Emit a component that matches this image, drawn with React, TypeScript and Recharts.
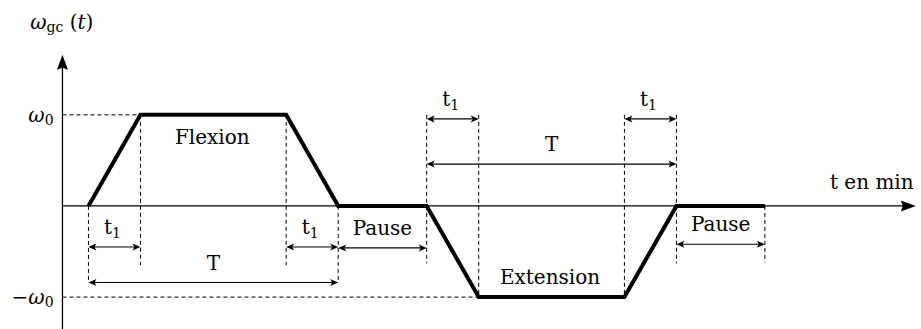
import { LineChart, Line, XAxis, YAxis, ReferenceLine, ReferenceDot } from 'recharts';

// angular speed profile of one flexion / extension cycle
const phaseTimes = [0.5, 1.5, 4.3, 5.3, 7.0, 8.0, 10.8, 11.8, 13.5];
const phaseValues = [0, 1, 1, 0, 0, -1, -1, 0, 0];

// dimension arrows (t1, T, Pause)
const dimStarts = [0.5, 4.3, 0.5, 5.3, 7.0, 10.8, 7.0, 11.8];
const dimEnds = [1.5, 5.3, 5.3, 7.0, 8.0, 11.8, 11.8, 13.5];
const dimLevels = [-0.45, -0.45, -0.84, -0.46, 0.955, 0.955, 0.46, -0.42];
const dimLabels = ['t1', 't1', 'T', 'Pause', 't1', 't1', 'T', 'Pause'];

// dashed guide lines
const guideTimes = [0.5, 1.5, 4.3, 5.3, 7.0, 8.0, 10.8, 11.8, 13.5];
const guideTops = [0, 1, 1, 0, 1, 1, 1, 1, 0];
const guideBottoms = [-0.84, -0.65, -0.65, -0.84, -0.63, -1, -1, -0.63, -0.62];

const phaseNames = ['Flexion', 'Extension'];
const phaseNameTimes = [2.88, 9.37];
const phaseNameLevels = [0.76, -0.78];

const X_DOMAIN: [number, number] = [-1.2, 16.5];
const Y_DOMAIN: [number, number] = [-1.35, 2.26];
const X_END = 16.4;
const Y_TOP = 1.66;

const FONT = "'DejaVu Serif', serif";
const INK = '#000';
const textStyle = { fontFamily: FONT, fontSize: 20 };
const subStyle = { fontSize: 14 };

function head(x: number, y: number, ux: number, uy: number, len: number, half: number, notch: number) {
  const bx = x - ux * len;
  const by = y - uy * len;
  const nx = x - ux * (len - notch);
  const ny = y - uy * (len - notch);
  return `${x},${y} ${bx - uy * half},${by + ux * half} ${nx},${ny} ${bx + uy * half},${by - ux * half}`;
}

function axisShape(props: any) {
  const { x1, y1, x2, y2 } = props;
  const d = Math.hypot(x2 - x1, y2 - y1) || 1;
  const ux = (x2 - x1) / d;
  const uy = (y2 - y1) / d;
  return (
    <g>
      <line x1={x1} y1={y1} x2={x2 - ux * 6} y2={y2 - uy * 6} stroke={INK} strokeWidth={1.3} />
      <polygon points={head(x2, y2, ux, uy, 15, 5.5, 2)} fill={INK} />
    </g>
  );
}

function renderLabel(label: string, x: number, y: number) {
  if (label === 't1') {
    return (
      <text x={x} y={y} textAnchor="middle" style={textStyle} fill={INK}>
        t<tspan dy={4} style={subStyle}>1</tspan>
      </text>
    );
  }
  return (
    <text x={x} y={y} textAnchor="middle" style={textStyle} fill={INK}>
      {label}
    </text>
  );
}

function dimShape(label: string) {
  return (props: any) => {
    const { x1, y1, x2, y2 } = props;
    const mid = (x1 + x2) / 2;
    return (
      <g>
        <line x1={x1 + 3} y1={y1} x2={x2 - 3} y2={y2} stroke={INK} strokeWidth={1.2} />
        <polygon points={head(x1, y1, -1, 0, 8, 3.5, 2)} fill={INK} />
        <polygon points={head(x2, y2, 1, 0, 8, 3.5, 2)} fill={INK} />
        {renderLabel(label, mid + (label === 't1' ? -2 : 0), y1 - 13)}
      </g>
    );
  };
}

function textShape(content: React.ReactNode, anchor: 'start' | 'middle' | 'end') {
  return (props: any) => (
    <text x={props.cx} y={props.cy} textAnchor={anchor} dominantBaseline="central" style={textStyle} fill={INK}>
      {content}
    </text>
  );
}

const chartData = phaseTimes.map((t, i) => ({ t, w: phaseValues[i] }));

export default function App() {
  return (
    <div style={{ position: 'absolute', left: 0, top: 0, background: '#fff' }}>
      <LineChart width={921} height={329} data={chartData} margin={{ top: 0, right: 0, bottom: 0, left: 0 }}>
        <XAxis dataKey="t" type="number" domain={X_DOMAIN} hide allowDataOverflow />
        <YAxis type="number" domain={Y_DOMAIN} hide allowDataOverflow />

        <ReferenceLine segment={[{ x: 0, y: 1 }, { x: 1.5, y: 1 }]} stroke={INK} strokeWidth={1} strokeDasharray="4 3" />
        <ReferenceLine segment={[{ x: 0, y: -1 }, { x: 8.0, y: -1 }]} stroke={INK} strokeWidth={1} strokeDasharray="4 3" />
        {guideTimes.map((t, i) => (
          <ReferenceLine
            key={`g${i}`}
            segment={[{ x: t, y: guideTops[i] }, { x: t, y: guideBottoms[i] }]}
            stroke={INK}
            strokeWidth={1}
            strokeDasharray="4 3"
          />
        ))}

        <ReferenceLine segment={[{ x: 0, y: 0 }, { x: X_END, y: 0 }]} shape={axisShape} />
        <ReferenceLine segment={[{ x: 0, y: Y_DOMAIN[0] }, { x: 0, y: Y_TOP }]} shape={axisShape} />

        {dimStarts.map((s, i) => (
          <ReferenceLine
            key={`d${i}`}
            segment={[{ x: s, y: dimLevels[i] }, { x: dimEnds[i], y: dimLevels[i] }]}
            shape={dimShape(dimLabels[i])}
          />
        ))}

        {phaseNames.map((n, i) => (
          <ReferenceDot key={n} x={phaseNameTimes[i]} y={phaseNameLevels[i]} r={0} shape={textShape(n, 'middle')} />
        ))}
        <ReferenceDot
          x={-0.17}
          y={1}
          r={0}
          shape={textShape(
            <>
              <tspan fontStyle="italic">ω</tspan>
              <tspan dy={5} style={subStyle}>0</tspan>
            </>,
            'end'
          )}
        />
        <ReferenceDot
          x={-0.17}
          y={-1}
          r={0}
          shape={textShape(
            <>
              −<tspan fontStyle="italic">ω</tspan>
              <tspan dy={5} style={subStyle}>0</tspan>
            </>,
            'end'
          )}
        />
        <ReferenceDot
          x={-0.62}
          y={2.02}
          r={0}
          shape={textShape(
            <>
              <tspan fontStyle="italic">ω</tspan>
              <tspan dy={5} style={subStyle}>gc</tspan>
              <tspan dy={-5}> (</tspan>
              <tspan fontStyle="italic">t</tspan>)
            </>,
            'start'
          )}
        />
        <ReferenceDot x={14.75} y={0.26} r={0} shape={textShape('t en min', 'start')} />

        <Line
          type="linear"
          dataKey="w"
          stroke={INK}
          strokeWidth={4}
          strokeLinejoin="miter"
          strokeLinecap="butt"
          dot={false}
          activeDot={false}
          isAnimationActive={false}
        />
      </LineChart>
    </div>
  );
}
